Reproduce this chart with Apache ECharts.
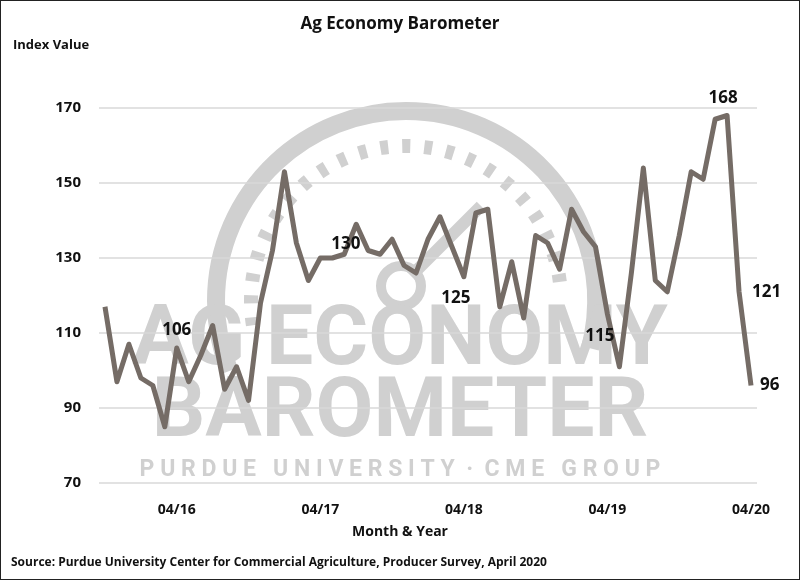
<!DOCTYPE html>
<html>
<head>
<meta charset="utf-8">
<script src="https://cdn.jsdelivr.net/npm/echarts@6/dist/echarts.min.js"></script>
<style>
  html, body { margin: 0; padding: 0; background: #fff; }
  #chart { width: 800px; height: 580px; box-sizing: border-box; border: 1px solid #222; }
</style>
</head>
<body>
<div id="chart"></div>
<script>
// 月份（2015-10 至 2020-04）
const months = [
  '10/15','11/15','12/15',
  '01/16','02/16','03/16','04/16','05/16','06/16','07/16','08/16','09/16','10/16','11/16','12/16',
  '01/17','02/17','03/17','04/17','05/17','06/17','07/17','08/17','09/17','10/17','11/17','12/17',
  '01/18','02/18','03/18','04/18','05/18','06/18','07/18','08/18','09/18','10/18','11/18','12/18',
  '01/19','02/19','03/19','04/19','05/19','06/19','07/19','08/19','09/19','10/19','11/19','12/19',
  '01/20','02/20','03/20','04/20'
];
// 指数值
const indexValues = [
  117, 97, 107,
  98, 96, 85, 106, 97, 104, 112, 95, 101, 92, 118, 132,
  153, 134, 124, 130, 130, 131, 139, 132, 131, 135, 128, 126,
  135, 141, 133, 125, 142, 143, 117, 129, 114, 136, 134, 127,
  143, 137, 133, 115, 101, 126, 154, 124, 121, 136, 153, 151,
  167, 168, 121, 96
];
// 带数值标注的月份
const labeledMonths = ['04/16', '04/17', '04/18', '04/19', '02/20', '03/20', '04/20'];
const yTicks = { min: 70, max: 170, interval: 20 };

// 标注位置（样式）
const labelPos = {
  '04/16': { position: 'top', offset: [0, -4] },
  '04/17': { position: 'right', offset: [6, -14] },
  '04/18': { position: 'bottom', offset: [-8, 8] },
  '04/19': { position: 'left', offset: [12, 22] },
  '02/20': { position: 'top', offset: [-4, -4] },
  '03/20': { position: 'right', offset: [8, 0] },
  '04/20': { position: 'right', offset: [4, 0] }
};

const seriesData = indexValues.map((v, i) => {
  const m = months[i];
  if (labeledMonths.indexOf(m) < 0) return v;
  return {
    value: v,
    label: Object.assign({ show: true, formatter: '{c}', fontSize: 17, fontWeight: 'bold', color: '#111', fontFamily: 'Open Sans' }, labelPos[m])
  };
});

const wm = '#d0d0d0';
const chart = echarts.init(document.getElementById('chart'));
chart.setOption({
  animation: false,
  title: { text: 'Ag Economy Barometer', left: 'center', top: 10,
    textStyle: { fontSize: 17, fontWeight: 'bold', color: '#111', fontFamily: 'Open Sans' } },
  graphic: [
    // 水印：仪表盘
    { type: 'arc', shape: { cx: 405, cy: 300, r: 190, startAngle: Math.PI * 0.88, endAngle: Math.PI * 2.08 },
      style: { stroke: wm, lineWidth: 18, fill: null }, z: -10 },
    { type: 'arc', shape: { cx: 405, cy: 300, r: 155, startAngle: Math.PI * 0.95, endAngle: Math.PI * 1.98 },
      style: { stroke: wm, lineWidth: 14, fill: null, lineDash: [8, 14] }, z: -10 },
    { type: 'circle', shape: { cx: 400, cy: 285, r: 20 }, style: { stroke: wm, lineWidth: 10, fill: null }, z: -10 },
    { type: 'line', shape: { x1: 410, y1: 275, x2: 480, y2: 205 }, style: { stroke: wm, lineWidth: 12 }, z: -10 },
    { type: 'text', left: 'center', top: 300, z: -10,
      style: { text: 'AG ECONOMY', fontSize: 84, fontWeight: 'bold', fill: wm, fontFamily: 'Roboto' } },
    { type: 'text', left: 'center', top: 372, z: -10,
      style: { text: 'BAROMETER', fontSize: 84, fontWeight: 'bold', fill: wm, fontFamily: 'Roboto' } },
    { type: 'text', left: 'center', top: 458, z: -10,
      style: { text: 'P U R D U E   U N I V E R S I T Y  ·  C M E   G R O U P', fontSize: 23, fontWeight: 'bold', fill: wm, fontFamily: 'Roboto' } },
    // 轴标题与来源
    { type: 'text', left: 12, top: 38,
      style: { text: 'Index Value', fontSize: 13, fontWeight: 'bold', fill: '#111', fontFamily: 'Open Sans' } },
    { type: 'text', left: 'center', top: 524,
      style: { text: 'Month & Year', fontSize: 14, fontWeight: 'bold', fill: '#111', fontFamily: 'Open Sans' } },
    { type: 'text', left: 10, top: 556,
      style: { text: 'Source: Purdue University Center for Commercial Agriculture, Producer Survey, April 2020', fontSize: 12, fontWeight: 'bold', fill: '#111', fontFamily: 'Open Sans' } }
  ],
  grid: { left: 98, right: 42, top: 107, bottom: 96 },
  xAxis: {
    type: 'category', data: months, boundaryGap: true,
    axisLine: { show: false }, axisTick: { show: false },
    axisLabel: { interval: (i, v) => v.indexOf('04/') === 0, margin: 20, fontSize: 14, fontWeight: 'bold', color: '#111', fontFamily: 'Open Sans' }
  },
  yAxis: {
    type: 'value', min: yTicks.min, max: yTicks.max, interval: yTicks.interval,
    axisLine: { show: false }, axisTick: { show: false },
    axisLabel: { margin: 18, fontSize: 15, fontWeight: 'bold', color: '#111', fontFamily: 'Open Sans' },
    splitLine: { lineStyle: { color: '#d9d9d9', width: 1.5 } }
  },
  series: [{
    type: 'line', data: seriesData, symbol: 'circle', symbolSize: 0, showSymbol: true,
    itemStyle: { color: '#756c66' },
    lineStyle: { color: '#756c66', width: 5, join: 'round' }
  }]
});
</script>
</body>
</html>
